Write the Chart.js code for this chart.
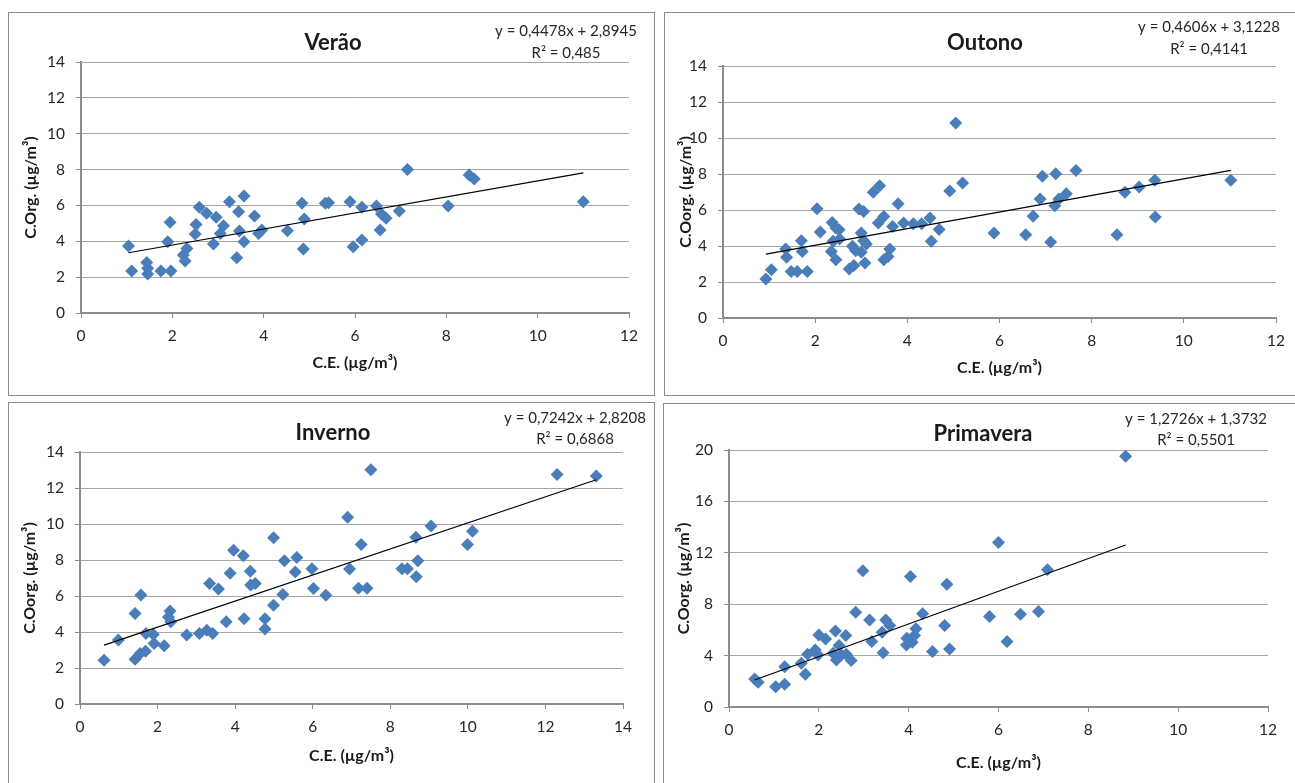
<!DOCTYPE html>
<html lang="pt">
<head>
<meta charset="utf-8">
<title>C.Org. vs C.E. por estação</title>
<script src="https://cdn.jsdelivr.net/npm/chart.js@4.4.0/dist/chart.umd.min.js"></script>
<style>
  html, body { margin: 0; padding: 0; background: #fff; }
  body { width: 1295px; height: 783px; position: relative; overflow: hidden; }
  .painel { position: absolute; border: 1px solid #8c8c8c; box-sizing: border-box; background: #fff; }
  .painel canvas { position: absolute; left: 0; top: 0; }
</style>
</head>
<body>
<div class="painel" id="painel1"><canvas id="miGrafico1"></canvas></div>
<div class="painel" id="painel2"><canvas id="miGrafico2"></canvas></div>
<div class="painel" id="painel3"><canvas id="miGrafico3"></canvas></div>
<div class="painel" id="painel4"><canvas id="miGrafico4"></canvas></div>
<script>
const estacoes = ['Verão', 'Outono', 'Inverno', 'Primavera']
const titulosY = ['C.Org. (µg/m³)', 'C.Oorg. (µg/m³)', 'C.Oorg. (µg/m³)', 'C.Oorg. (µg/m³)']
const tituloX = 'C.E. (µg/m³)'

// C.E. (x) e C.Org. (y) de cada estação
const veraoCE = [1.04, 1.11, 1.44, 1.46, 1.46, 1.75, 1.97, 1.90, 1.95, 2.24, 2.32, 2.28, 2.50, 2.52, 2.59, 2.75, 2.90, 2.96, 3.05, 3.12, 3.25, 3.41, 3.45, 3.47, 3.57, 3.57, 3.80, 3.89, 3.96, 4.52, 4.84, 4.89, 4.87, 5.35, 5.42, 5.89, 6.15, 5.96, 6.15, 6.47, 6.58, 6.68, 6.55, 6.97, 8.04, 11.0, 7.15, 8.50, 8.61]
const veraoCOrg = [3.74, 2.34, 2.81, 2.49, 2.17, 2.34, 2.34, 3.98, 5.06, 3.23, 3.60, 2.90, 4.41, 4.93, 5.90, 5.56, 3.85, 5.34, 4.44, 4.87, 6.21, 3.08, 5.65, 4.57, 6.53, 3.98, 5.41, 4.44, 4.63, 4.59, 6.12, 5.24, 3.57, 6.12, 6.15, 6.21, 5.90, 3.70, 4.07, 5.97, 5.52, 5.28, 4.63, 5.69, 5.97, 6.21, 8.01, 7.70, 7.47]

const outonoCE = [0.93, 1.05, 1.36, 1.38, 1.48, 1.61, 1.70, 1.72, 1.83, 2.04, 2.11, 2.37, 2.45, 2.52, 2.35, 2.45, 2.39, 2.53, 2.74, 2.84, 2.81, 2.88, 2.95, 3.05, 3.00, 3.00, 3.05, 3.11, 3.08, 3.26, 3.40, 3.37, 3.49, 3.49, 3.58, 3.62, 3.68, 3.80, 3.92, 4.13, 4.31, 4.49, 4.52, 4.69, 4.92, 5.05, 5.20, 5.88, 6.57, 6.73, 6.88, 6.93, 7.11, 7.20, 7.22, 7.29, 7.45, 7.66, 8.55, 8.72, 9.03, 9.37, 9.38, 11.02]
const outonoCOrg = [2.17, 2.68, 3.83, 3.37, 2.59, 2.59, 4.29, 3.70, 2.59, 6.07, 4.78, 5.31, 5.00, 4.90, 3.70, 3.24, 4.26, 4.39, 2.72, 2.91, 3.98, 3.74, 6.06, 5.92, 4.72, 3.65, 4.29, 4.11, 3.06, 6.98, 7.35, 5.28, 5.64, 3.24, 3.42, 3.83, 5.09, 6.35, 5.28, 5.24, 5.24, 5.55, 4.26, 4.91, 7.05, 10.83, 7.50, 4.72, 4.63, 5.65, 6.61, 7.87, 4.22, 6.24, 8.02, 6.61, 6.90, 8.20, 4.63, 6.98, 7.28, 7.65, 5.61, 7.65]

const invernoCE = [0.62, 0.99, 1.42, 1.42, 1.55, 1.57, 1.69, 1.70, 1.89, 1.91, 2.17, 2.28, 2.32, 2.34, 2.75, 3.08, 3.27, 3.34, 3.42, 3.57, 3.77, 3.87, 3.96, 4.21, 4.23, 4.39, 4.40, 4.52, 4.77, 4.77, 4.99, 4.99, 5.23, 5.27, 5.55, 5.59, 5.98, 6.02, 6.34, 6.90, 6.95, 7.18, 7.25, 7.40, 7.50, 8.30, 8.44, 8.66, 8.67, 8.71, 9.05, 9.99, 10.12, 12.30, 13.31]
const invernoCOrg = [2.43, 3.55, 5.03, 2.49, 2.81, 6.05, 2.93, 3.92, 3.86, 3.36, 3.23, 4.84, 5.16, 4.57, 3.83, 3.92, 4.10, 6.70, 3.92, 6.39, 4.57, 7.26, 8.54, 8.23, 4.73, 7.38, 6.61, 6.70, 4.73, 4.17, 9.24, 5.49, 6.09, 7.96, 7.34, 8.14, 7.52, 6.41, 6.04, 10.38, 7.50, 6.43, 8.86, 6.43, 13.01, 7.52, 7.52, 9.27, 7.07, 7.96, 9.89, 8.86, 9.60, 12.75, 12.66]

const primaveraCE = [0.57, 0.65, 1.04, 1.24, 1.24, 1.61, 1.70, 1.75, 1.92, 1.98, 2.00, 2.15, 2.37, 2.32, 2.39, 2.45, 2.50, 2.60, 2.61, 2.72, 2.82, 2.98, 3.13, 3.18, 3.43, 3.41, 3.49, 3.58, 3.95, 3.96, 4.04, 4.08, 4.13, 4.16, 4.31, 4.53, 4.80, 4.85, 4.91, 5.80, 6.00, 6.19, 6.49, 6.89, 7.09, 8.83]
const primaveraCOrg = [2.18, 1.92, 1.58, 3.14, 1.77, 3.40, 2.55, 4.11, 4.44, 4.05, 5.61, 5.30, 5.92, 4.18, 3.66, 4.78, 4.05, 5.56, 4.11, 3.61, 7.38, 10.60, 6.78, 5.09, 4.23, 5.82, 6.78, 6.34, 4.83, 5.35, 10.16, 5.04, 5.56, 6.08, 7.25, 4.31, 6.34, 9.56, 4.52, 7.04, 12.81, 5.09, 7.22, 7.43, 10.68, 19.51]

// linha de tendência: y = a x + b
const inclinacoes = [0.4478, 0.4606, 0.7242, 1.2726]
const interceptos = [2.8945, 3.1228, 2.8208, 1.3732]
const r2 = [0.485, 0.4141, 0.6868, 0.5501]

// eixos
const maxX = [12, 12, 14, 12]
const maxY = [14, 14, 14, 20]
const passoY = [2, 2, 2, 4]

const seriesX = [veraoCE, outonoCE, invernoCE, primaveraCE]
const seriesY = [veraoCOrg, outonoCOrg, invernoCOrg, primaveraCOrg]

// posição de cada painel na página (px)
const paineis = [
    { caixa: { l: 8, t: 12, r: 655, b: 396 }, area: { l: 81, r: 629, t: 62, b: 313 }, titulo: { x: 333, y: 43 }, eq: { x: 566, y1: 31, y2: 53 }, tYx: 31, tXy: 363 },
    { caixa: { l: 664, t: 12, r: 1300, b: 396 }, area: { l: 723, r: 1276, t: 66, b: 318 }, titulo: { x: 985, y: 43 }, eq: { x: 1209, y1: 27, y2: 49 }, tYx: 686, tXy: 368 },
    { caixa: { l: 8, t: 402, r: 655, b: 792 }, area: { l: 80, r: 623, t: 452, b: 704 }, titulo: { x: 333, y: 433 }, eq: { x: 575, y1: 418, y2: 439 }, tYx: 30, tXy: 756 },
    { caixa: { l: 663, t: 403, r: 1300, b: 792 }, area: { l: 729, r: 1268, t: 450, b: 707 }, titulo: { x: 983, y: 434 }, eq: { x: 1196, y1: 419, y2: 440 }, tYx: 684, tXy: 763 }
]

Chart.defaults.font.family = 'Lato, "Open Sans", sans-serif'
Chart.defaults.color = '#262626'

const virgula = n => String(n).replace('.', ',')

const textosPainel = {
    id: 'textosPainel',
    afterDraw(chart, args, opts) {
        const ctx = chart.ctx
        ctx.save()
        ctx.fillStyle = '#1a1a1a'
        ctx.textAlign = 'center'
        ctx.textBaseline = 'middle'
        ctx.font = 'bold 22px Lato, "Open Sans", sans-serif'
        ctx.fillText(opts.titulo, opts.tx, opts.ty)
        ctx.font = '15px Lato, "Open Sans", sans-serif'
        ctx.fillStyle = '#262626'
        ctx.fillText(opts.eq1, opts.ex, opts.ey1)
        ctx.fillText(opts.eq2, opts.ex, opts.ey2)
        ctx.restore()
    }
}

const criarGrafico = (i) => {
    const p = paineis[i]
    const div = document.getElementById('painel' + (i + 1))
    div.style.left = p.caixa.l + 'px'
    div.style.top = p.caixa.t + 'px'
    div.style.width = (p.caixa.r - p.caixa.l) + 'px'
    div.style.height = (p.caixa.b - p.caixa.t) + 'px'

    const ox = p.caixa.l + 1
    const oy = p.caixa.t + 1
    const largura = p.caixa.r - p.caixa.l - 2
    const altura = p.caixa.b - p.caixa.t - 2

    const canvas = document.getElementById('miGrafico' + (i + 1))
    canvas.width = largura
    canvas.height = altura
    canvas.style.width = largura + 'px'
    canvas.style.height = altura + 'px'

    const xs = seriesX[i]
    const ys = seriesY[i]
    const pontos = xs.map((x, k) => ({ x: x, y: ys[k] }))
    const xMin = Math.min(...xs)
    const xMax = Math.max(...xs)
    const tendencia = [xMin, xMax].map(x => ({ x: x, y: inclinacoes[i] * x + interceptos[i] }))

    new Chart(canvas.getContext('2d'), {
        type: 'scatter',
        data: {
            datasets: [{
                label: estacoes[i],
                data: pontos,
                backgroundColor: '#4A7EBB',
                borderWidth: 0,
                pointStyle: 'rectRot',
                pointRadius: 6.5,
                order: 1
            }, {
                type: 'line',
                label: 'Tendência',
                data: tendencia,
                borderColor: '#000000',
                borderWidth: 1.2,
                pointRadius: 0,
                fill: false,
                order: 0
            }]
        },
        options: {
            responsive: false,
            animation: false,
            layout: { padding: { left: 0, top: p.area.t - oy, right: largura - (p.area.r - ox), bottom: 0 } },
            plugins: {
                legend: { display: false },
                tooltip: { enabled: false },
                textosPainel: {
                    titulo: estacoes[i],
                    tx: p.titulo.x - ox, ty: p.titulo.y - oy,
                    eq1: `y = ${virgula(inclinacoes[i])}x + ${virgula(interceptos[i])}`,
                    eq2: `R² = ${virgula(r2[i])}`,
                    ex: p.eq.x - ox, ey1: p.eq.y1 - oy, ey2: p.eq.y2 - oy
                }
            },
            scales: {
                x: {
                    type: 'linear',
                    min: 0,
                    max: maxX[i],
                    ticks: { stepSize: 2, padding: 9, font: { size: 15.5 } },
                    grid: { drawOnChartArea: false, drawTicks: true, tickLength: 5, tickColor: '#8c8c8c' },
                    border: { color: '#8c8c8c', width: 2 },
                    title: {
                        display: true, text: tituloX, color: '#1a1a1a',
                        font: { size: 16, weight: 'bold' },
                        padding: { top: 0, bottom: altura - (p.tXy - oy) - 9.6 }
                    },
                    afterFit: (s) => { s.height = altura - (p.area.b - oy) }
                },
                y: {
                    type: 'linear',
                    min: 0,
                    max: maxY[i],
                    ticks: { stepSize: passoY[i], padding: 11, font: { size: 15.5 } },
                    grid: { color: '#a6a6a6', lineWidth: 1, tickLength: 5, tickColor: '#8c8c8c' },
                    border: { color: '#8c8c8c', width: 2 },
                    title: {
                        display: true, text: titulosY[i], color: '#1a1a1a',
                        font: { size: 16, weight: 'bold' },
                        padding: { top: (p.tYx - ox) - 9.6, bottom: 0 }
                    },
                    afterFit: (s) => { s.width = p.area.l - ox }
                }
            }
        },
        plugins: [textosPainel]
    })
}

estacoes.forEach((e, i) => criarGrafico(i))
</script>
</body>
</html>
